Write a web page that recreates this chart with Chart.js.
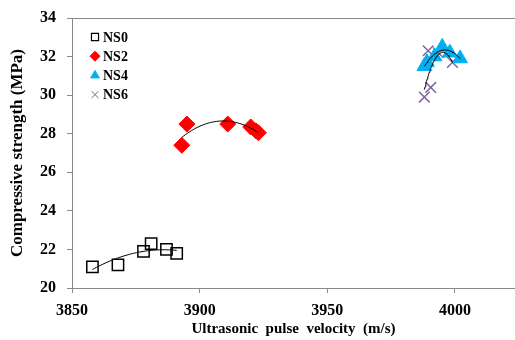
<!DOCTYPE html>
<html>
<head>
<meta charset="utf-8">
<script src="https://cdn.jsdelivr.net/npm/chart.js@4.4.1/dist/chart.umd.min.js"></script>
<style>
  html, body { margin: 0; padding: 0; background: #fff; }
  #wrap { width: 515px; height: 340px; }
</style>
</head>
<body>
<div id="wrap"><canvas id="c" width="515" height="340"></canvas></div>
<script>
// values
const ns0X = [3858, 3868, 3878, 3881, 3887, 3891];
const ns0Y = [21.1, 21.2, 21.9, 22.3, 22.0, 21.8];
const ns2X = [3893, 3895, 3911, 3920, 3922, 3923];
const ns2Y = [27.4, 28.5, 28.5, 28.35, 28.15, 28.05];
const ns4X = [3988, 3989, 3992, 3995, 3998, 4002];
const ns4Y = [31.5, 31.7, 32.0, 32.5, 32.2, 31.9];
const ns6X = [3988, 3990.5, 3989.5, 3993.5, 3999];
const ns6Y = [29.9, 30.4, 32.3, 32.2, 31.7];
const seriesNames = ['NS0', 'NS2', 'NS4', 'NS6'];
const xTicks = [3850, 3900, 3950, 4000];
const yTicks = [20, 22, 24, 26, 28, 30, 32, 34];

const FONT = '"Liberation Serif", "Times New Roman", serif';
const AXIS_GREY = '#898989';

function pts(xs, ys) {
    return xs.map((x, i) => ({ x: x, y: ys[i] }));
}

// 2nd order polynomial trendline (least squares), like the spreadsheet one
function polyTrend(xs, ys) {
    const n = xs.length;
    const mx = xs.reduce((a, b) => a + b, 0) / n;
    let s = [0, 0, 0, 0, 0], t = [0, 0, 0];
    xs.forEach((x, i) => {
        const u = x - mx;
        for (let k = 0; k < 5; k++) s[k] += Math.pow(u, k);
        for (let k = 0; k < 3; k++) t[k] += ys[i] * Math.pow(u, k);
    });
    const A = [[s[0], s[1], s[2], t[0]], [s[1], s[2], s[3], t[1]], [s[2], s[3], s[4], t[2]]];
    for (let i = 0; i < 3; i++) {
        for (let j = i + 1; j < 3; j++) {
            const f = A[j][i] / A[i][i];
            for (let k = i; k < 4; k++) A[j][k] -= f * A[i][k];
        }
    }
    const c = [0, 0, 0];
    for (let i = 2; i >= 0; i--) {
        let v = A[i][3];
        for (let k = i + 1; k < 3; k++) v -= A[i][k] * c[k];
        c[i] = v / A[i][i];
    }
    const lo = Math.min(...xs), hi = Math.max(...xs);
    const out = [];
    for (let k = 0; k <= 40; k++) {
        const x = lo + (hi - lo) * k / 40;
        const u = x - mx;
        out.push({ x: x, y: c[0] + c[1] * u + c[2] * u * u });
    }
    return out;
}

function trendSet(xs, ys) {
    return {
        type: 'line',
        data: polyTrend(xs, ys),
        borderColor: '#000',
        borderWidth: 1,
        pointRadius: 0,
        fill: false,
        tension: 0
    };
}

const markerSets = [
    { label: seriesNames[0], data: pts(ns0X, ns0Y), pointStyle: 'rect', pointRadius: 8,
      backgroundColor: 'rgba(0,0,0,0)', borderColor: '#000', pointBorderWidth: 1.5 },
    { label: seriesNames[1], data: pts(ns2X, ns2Y), pointStyle: 'rectRot', pointRadius: 8,
      backgroundColor: '#ff0000', borderColor: '#ff0000', pointBorderWidth: 1 },
    { label: seriesNames[2], data: pts(ns4X, ns4Y), pointStyle: 'triangle', pointRadius: 8.5,
      backgroundColor: '#00b0f0', borderColor: '#00b0f0', pointBorderWidth: 1 },
    { label: seriesNames[3], data: pts(ns6X, ns6Y), pointStyle: 'crossRot', pointRadius: 7.5,
      backgroundColor: '#8064a2', borderColor: '#8064a2', pointBorderWidth: 1.5 }
];

const datasets = markerSets.map(d => Object.assign({ type: 'scatter', showLine: false, order: 2 }, d))
    .concat([trendSet(ns0X, ns0Y), trendSet(ns2X, ns2Y), trendSet(ns4X, ns4Y), trendSet(ns6X, ns6Y)]
        .map(d => Object.assign({ order: 1 }, d)));

// legend drawn inside the plot, top-left, plus the top frame line
const insideLegend = {
    id: 'insideLegend',
    afterDraw(chart) {
        const ctx = chart.ctx;
        const area = chart.chartArea;
        ctx.save();
        ctx.strokeStyle = AXIS_GREY;
        ctx.lineWidth = 1;
        ctx.beginPath();
        ctx.moveTo(area.left, area.top + 0.5);
        ctx.lineTo(area.right, area.top + 0.5);
        ctx.stroke();

        ctx.font = 'bold 14px ' + FONT;
        ctx.textBaseline = 'middle';
        markerSets.forEach((m, i) => {
            const y = 37 + i * 19.2;
            ctx.fillStyle = m.backgroundColor;
            ctx.strokeStyle = m.borderColor;
            ctx.lineWidth = m.pointStyle === 'rect' ? 1.2 : 1;
            Chart.helpers.drawPoint(ctx, { pointStyle: m.pointStyle, radius: 5, borderWidth: ctx.lineWidth, rotation: 0 }, 95, y);
            ctx.fillStyle = '#000';
            ctx.fillText(m.label, 103, y + 1);
        });
        ctx.restore();
    }
};

new Chart(document.getElementById('c'), {
    type: 'scatter',
    data: { datasets: datasets },
    options: {
        responsive: false,
        animation: false,
        devicePixelRatio: 1,
        layout: { autoPadding: false, padding: { top: 18, right: 0, left: 0, bottom: 0 } },
        plugins: {
            legend: { display: false },
            tooltip: { enabled: false }
        },
        scales: {
            x: {
                type: 'linear',
                min: 3850,
                max: 4023.5,
                afterBuildTicks: axis => { axis.ticks = xTicks.map(v => ({ value: v })); },
                afterFit: axis => {
                    axis.height = 52;
                    axis.paddingLeft = 0;
                    axis.paddingRight = 0;
                },
                ticks: {
                    color: '#000',
                    font: { family: FONT, size: 16, weight: 'bold' },
                    padding: 8,
                    maxRotation: 0,
                    callback: v => String(v)
                },
                grid: { drawOnChartArea: false, color: AXIS_GREY, tickLength: 5, tickColor: AXIS_GREY },
                border: { color: AXIS_GREY, width: 1 },
                title: {
                    display: true,
                    text: 'Ultrasonic  pulse  velocity  (m/s)',
                    color: '#000',
                    font: { family: FONT, size: 15, weight: 'bold' },
                    padding: { top: 0, bottom: 2 }
                }
            },
            y: {
                type: 'linear',
                min: 20,
                max: 34,
                afterBuildTicks: axis => { axis.ticks = yTicks.map(v => ({ value: v })); },
                afterFit: axis => {
                    axis.width = 72;
                    axis.paddingTop = 0;
                    axis.paddingBottom = 0;
                },
                ticks: {
                    color: '#000',
                    font: { family: FONT, size: 16, weight: 'bold' },
                    padding: 11,
                    callback: v => String(v)
                },
                grid: { drawOnChartArea: false, color: AXIS_GREY, tickLength: 5, tickColor: AXIS_GREY },
                border: { color: AXIS_GREY, width: 1 },
                title: {
                    display: true,
                    text: 'Compressive strength (MPa)',
                    color: '#000',
                    font: { family: FONT, size: 17, weight: 'bold' },
                    padding: { top: 7, bottom: 0 }
                }
            }
        }
    },
    plugins: [insideLegend]
});
</script>
</body>
</html>
